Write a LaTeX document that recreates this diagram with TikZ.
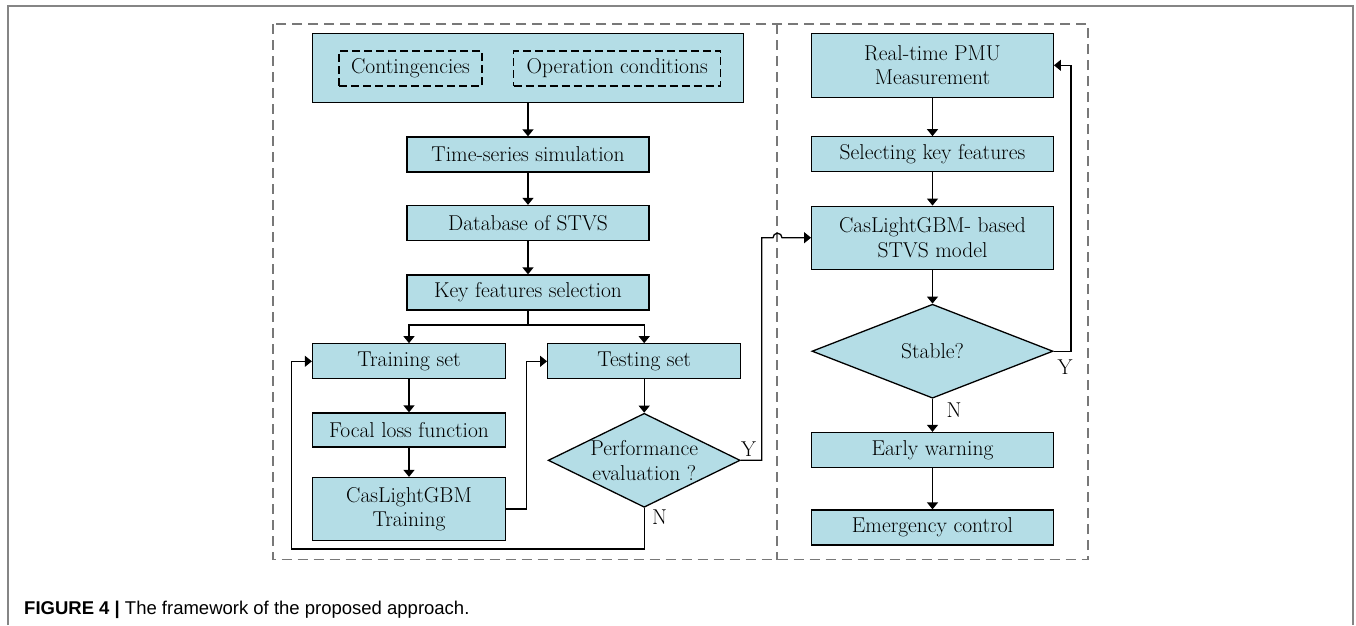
\documentclass[tikz,border=0pt]{standalone}
\usepackage{fontspec}
\newfontfamily\capfont{Liberation Sans}
\usetikzlibrary{shapes.geometric,arrows.meta}
\definecolor{boxblue}{RGB}{180,221,230}
\definecolor{framegray}{RGB}{120,120,120}
\newcommand{\nfs}{\fontsize{21.5}{24.5}\selectfont}
\begin{document}
\begin{tikzpicture}[x=1pt,y=-1pt,
  box/.style={draw=black, line width=1.3pt, fill=boxblue, inner sep=0pt, font=\nfs, align=center},
  dbox/.style={draw=black, line width=1.1pt, dash pattern=on 8pt off 4pt, inner sep=0pt, font=\nfs},
  dec/.style={draw=black, line width=1.3pt, fill=boxblue, diamond, inner sep=0pt},
  lbl/.style={font=\nfs, inner sep=0pt},
  conn/.style={draw=black, line width=1.3pt},
  arr/.style={conn, -{Triangle[length=7pt,width=11pt]}},
  frame/.style={draw=framegray, line width=1.2pt, dash pattern=on 10pt off 6pt}
]
\useasboundingbox (0,0) rectangle (1356,625);
% outer page frame
\draw[draw=framegray!90, line width=1.5pt] (8,625) -- (8,6) -- (1353,6) -- (1353,625);
% dashed frames
\draw[frame] (273,24) rectangle (1088,559.5);
\draw[frame] (777,24) -- (777,559.5);

% left column
\node[box, minimum width=430.6pt, minimum height=69pt] (top) at (528,67.8) {};
\node[dbox, minimum width=143pt, minimum height=35pt] (cont) at (410.5,68.5) {Contingencies};
\node[dbox, minimum width=207pt, minimum height=35pt] (opc) at (617.2,68.5) {Operation conditions};
\node[box, minimum width=242pt, minimum height=35pt] (ts) at (528,154.5) {Time-series simulation};
\node[box, minimum width=242pt, minimum height=35pt] (db) at (528,223) {Database of STVS};
\node[box, minimum width=242pt, minimum height=35pt] (kf) at (528,292.5) {Key features selection};
\node[box, minimum width=193pt, minimum height=35pt] (train) at (409,361.3) {Training set};
\node[box, minimum width=193pt, minimum height=35pt] (test) at (644.2,361.3) {Testing set};
\node[box, minimum width=193pt, minimum height=34pt] (focal) at (409,430) {Focal loss function};
\node[box, minimum width=193pt, minimum height=63pt] (ctrain) at (409,509) {CasLightGBM\\Training};
\node[dec, minimum width=192pt, minimum height=94pt] (perf) at (644.2,460.3) {};
\node[lbl, align=center] (perft) at (644.2,460.3) {Performance\\evaluation ?};

% right column
\node[box, minimum width=241.6pt, minimum height=64pt] (pmu) at (932.5,65.3) {Real-time PMU\\Measurement};
\node[box, minimum width=241.6pt, minimum height=35pt] (sel) at (932.5,154.3) {Selecting key features};
\node[box, minimum width=241.6pt, minimum height=63pt] (model) at (932.5,237.7) {CasLightGBM- based\\STVS model};
\node[dec, minimum width=241pt, minimum height=94pt] (stable) at (932.5,351.2) {};
\node[lbl] (stablet) at (932.5,351.2) {Stable?};
\node[box, minimum width=241.6pt, minimum height=35pt] (early) at (932.5,450) {Early warning};
\node[box, minimum width=241.6pt, minimum height=35pt] (emerg) at (932.5,527.5) {Emergency control};

% labels
\node[lbl] (y1) at (748.5,449) {Y};
\node[lbl] (n1) at (659.5,517) {N};
\node[lbl] (y2) at (1065,367) {Y};
\node[lbl] (n2) at (954,410) {N};

% coordinates
\coordinate (split) at (528,325);
\coordinate (c1) at (526.7,509);
\coordinate (pj) at (761.7,460.3);
\coordinate (pk) at (761.7,237.7);
\coordinate (h1) at (773,237.7);
\coordinate (b1) at (644.2,549);
\coordinate (b2) at (291.7,549);
\coordinate (r1) at (1071,351.2);

% connectors left
\draw[arr] (top) -- (ts);
\draw[arr] (ts) -- (db);
\draw[arr] (db) -- (kf);
\draw[conn] (kf) -- (split);
\draw[arr] (split) -| (train);
\draw[arr] (split) -| (test);
\draw[arr] (train) -- (focal);
\draw[arr] (focal) -- (ctrain);
\draw[arr] (ctrain.east) -- (c1) |- (test.west);
\draw[arr] (test) -- (perf);
\draw[arr] (perf.south) -- (b1) -- (b2) |- (train.west);
\draw[arr] (perf.east) -- (pj) -- (pk) -- (h1) arc[start angle=180, end angle=360, radius=4.5] -- (model.west);

% connectors right
\draw[arr] (pmu) -- (sel);
\draw[arr] (sel) -- (model);
\draw[arr] (model) -- (stable);
\draw[arr] (stable) -- (early);
\draw[arr] (early) -- (emerg);
\draw[arr] (stable.east) -- (r1) |- (pmu.east);

% caption
\node[anchor=base west, inner sep=0pt, font=\capfont\fontsize{18.5}{21}\selectfont] (cap) at (24,614) {\textbf{FIGURE 4 |} The framework of the proposed approach.};
\end{tikzpicture}
\end{document}
